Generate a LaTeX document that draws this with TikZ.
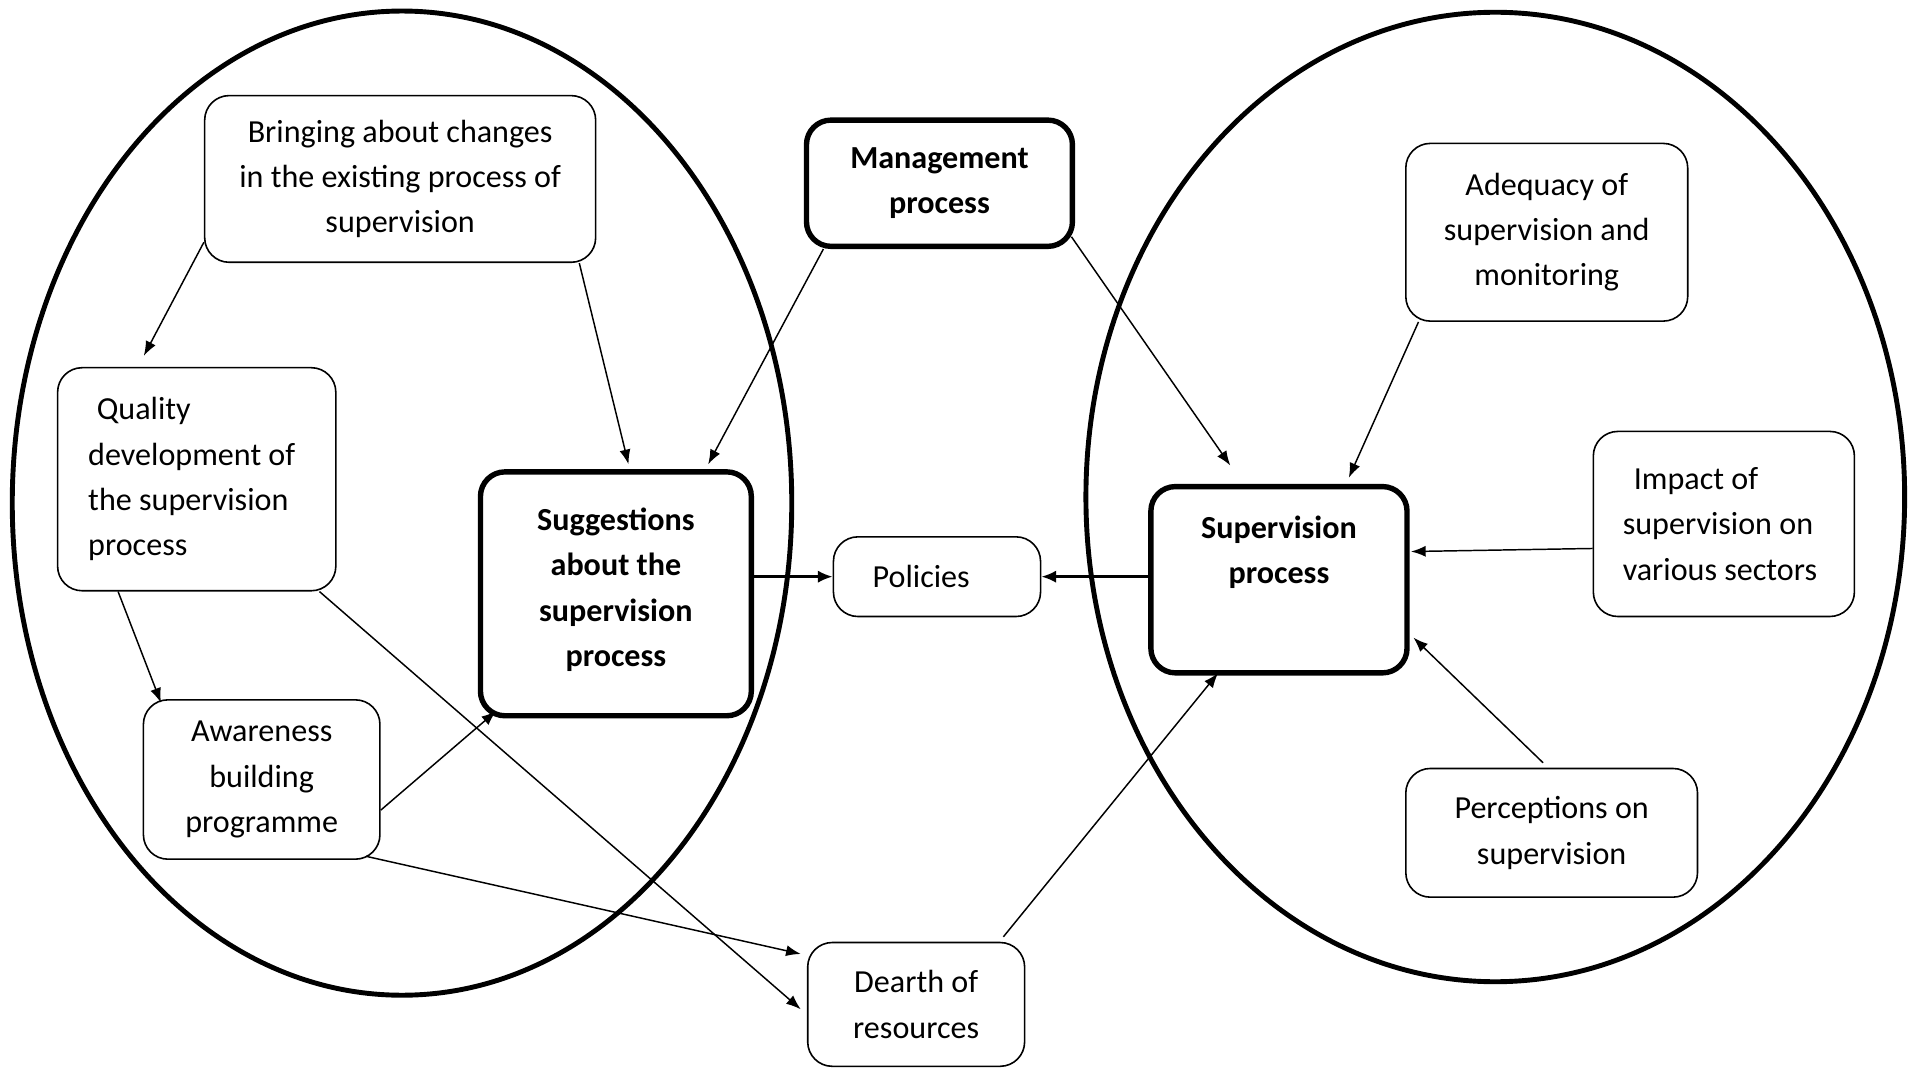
\documentclass[tikz,border=0pt]{standalone}
\usepackage{fontspec}
\setmainfont{Carlito}
\usetikzlibrary{arrows.meta}
\begin{document}
\begin{tikzpicture}[x=0.5pt, y=-0.5pt, font=\fontsize{13.1pt}{18.5pt}\selectfont,
	box/.style = {draw, line width=0.65pt, rounded corners=10pt, align=center, inner sep=0pt},
	keybox/.style = {box, line width=2.2pt, font=\fontsize{13.1pt}{18.5pt}\selectfont\bfseries},
	ring/.style = {draw, line width=2pt},
	link/.style = {line width=0.6pt, -{Latex[length=6pt, width=4.5pt]}},
	flow/.style = {line width=1pt, -{Latex[length=6pt, width=5pt]}}]
		\useasboundingbox (0,0) rectangle (1560,872);
		\draw[ring] (328,410.5) ellipse [x radius=159pt, y radius=200.75pt];
		\draw[ring] (1220,405.5) ellipse [x radius=167pt, y radius=197.75pt];
		\node[box, minimum width=159.5pt, minimum height=68pt] (bring) at (326.5,146) {Bringing about changes\\in the existing process of\\supervision};
		\node[box, minimum width=113.5pt, minimum height=91pt, align=flush left, text width=88.5pt] (qual) at (160.5,391) {\hspace*{3.5pt}Quality\\development of\\the supervision\\process};
		\node[box, minimum width=96.5pt, minimum height=65pt] (aware) at (213.5,636) {Awareness\\building\\programme};
		\node[keybox, minimum width=110.5pt, minimum height=99.5pt] (sugg) at (502.5,484.5) {Suggestions\\about the\\supervision\\process\\[-13pt]\mbox{}};
		\node[keybox, minimum width=108.5pt, minimum height=51.5pt] (mgmt) at (766.5,149.5) {Management\\process};
		\node[box, minimum width=84.5pt, minimum height=32.5pt, align=flush left, text width=52.5pt] (pol) at (764.5,470.5) {Policies};
		\node[box, minimum width=88.5pt, minimum height=50.5pt] (dearth) at (747.5,819.5) {Dearth of\\resources};
		\node[keybox, minimum width=104.5pt, minimum height=76pt] (superv) at (1043.5,473) {Supervision\\process\\[6pt]\mbox{}};
		\node[box, minimum width=115pt, minimum height=72.5pt] (adeq) at (1262,189.5) {Adequacy of\\supervision and\\monitoring};
		\node[box, minimum width=106.5pt, minimum height=75.5pt, align=flush left, text width=82.5pt] (imp) at (1406.5,427.5) {\hspace*{4.5pt}Impact of\\supervision on\\various sectors};
		\node[box, minimum width=119pt, minimum height=52.5pt] (perc) at (1266,679.5) {Perceptions on\\supervision};
		\draw[link] ([shift={(0,-17)}]bring.south west) -- ([shift={(71,-9)}]qual.north west);
		\draw[link] ([shift={(-14,0)}]bring.south east) -- ([shift={(123,-4)}]sugg.north west);
		\draw[link] ([shift={(16,0)}]mgmt.south west) -- ([shift={(188,-4)}]sugg.north west);
		\draw[link] ([shift={(-3,-10)}]mgmt.south east) -- ([shift={(67,-15)}]superv.north west);
		\draw[link] ([shift={(50,0)}]qual.south west) -- ([shift={(15,3)}]aware.north west);
		\draw[link] ([shift={(-14,0)}]qual.south east) -- ([shift={(-5,4)}]dearth.west);
		\draw[link] ([shift={(0,25)}]aware.east) -- ([shift={(15,-6)}]sugg.south west);
		\draw[link] ([shift={(-12,-3)}]aware.south east) -- ([shift={(-5,10)}]dearth.north west);
		\draw[flow] (sugg.east |- pol.west) -- (pol.west);
		\draw[flow] (superv.west |- pol.east) -- (pol.east);
		\draw[link] ([shift={(11,0)}]adeq.south west) -- ([shift={(57,-5)}]superv.north);
		\draw[link] ([shift={(0,20)}]imp.west) -- ([shift={(1,-23)}]superv.east);
		\draw[link] ([shift={(-7,-4)}]perc.north) -- ([shift={(3,-31)}]superv.south east);
		\draw[link] ([shift={(-18,-4)}]dearth.north east) -- ([shift={(57,-2)}]superv.south west);
	\end{tikzpicture}
\end{document}
